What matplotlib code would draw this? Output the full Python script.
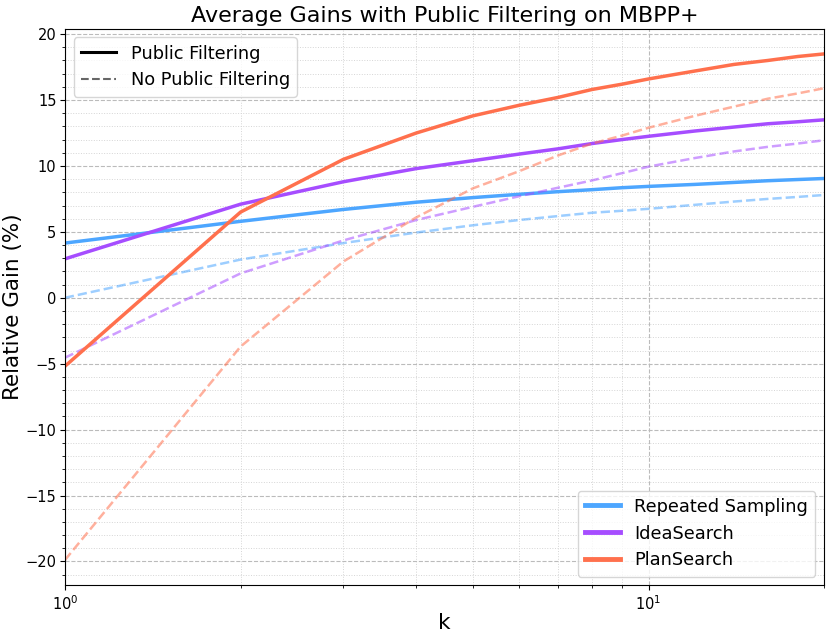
import matplotlib
matplotlib.use('Agg')
import matplotlib.pyplot as plt
from matplotlib.lines import Line2D
from matplotlib.ticker import AutoMinorLocator

# ---- data ----
k = [1, 2, 3, 4, 5, 6, 7, 8, 9, 10, 12, 14, 16, 18, 20]

rs_pub = [4.15, 5.8, 6.7, 7.25, 7.6, 7.85, 8.05, 8.2, 8.35, 8.45, 8.6, 8.75, 8.88, 8.97, 9.05]
idea_pub = [2.95, 7.1, 8.8, 9.8, 10.4, 10.9, 11.3, 11.7, 12.0, 12.25, 12.65, 12.95, 13.2, 13.35, 13.5]
plan_pub = [-5.2, 6.5, 10.5, 12.5, 13.8, 14.6, 15.2, 15.8, 16.2, 16.6, 17.2, 17.7, 18.0, 18.3, 18.5]

rs_nopub = [0.0, 2.9, 4.15, 4.95, 5.5, 5.9, 6.2, 6.45, 6.6, 6.75, 7.05, 7.3, 7.5, 7.65, 7.8]
idea_nopub = [-4.55, 1.85, 4.35, 5.9, 6.9, 7.7, 8.35, 8.9, 9.45, 9.95, 10.6, 11.1, 11.45, 11.7, 11.95]
plan_nopub = [-19.9, -3.7, 2.75, 6.1, 8.3, 9.6, 10.8, 11.7, 12.3, 12.9, 13.8, 14.5, 15.1, 15.5, 15.9]

methods = ['Repeated Sampling', 'IdeaSearch', 'PlanSearch']
colors = ['#4da6ff', '#a64dff', '#ff704d']
pub = [rs_pub, idea_pub, plan_pub]
nopub = [rs_nopub, idea_nopub, plan_nopub]

# ---- plot ----
fig, ax = plt.subplots(figsize=(8.31, 6.35), dpi=100)
fig.subplots_adjust(left=0.078, right=0.992, top=0.955, bottom=0.078)

for name, c, y1, y2 in zip(methods, colors, pub, nopub):
    ax.plot(k, y1, color=c, linewidth=2.5, label=name)
    ax.plot(k, y2, color=c, linewidth=1.8, linestyle='--', alpha=0.55)

ax.set_xscale('log')
ax.set_xlim(1, 20)
ax.yaxis.set_minor_locator(AutoMinorLocator(5))

ax.grid(True, which='major', linestyle='--', color='#bbbbbb', linewidth=0.8)
ax.grid(True, which='minor', linestyle=':', color='#d5d5d5', linewidth=0.7)

ax.set_title('Average Gains with Public Filtering on MBPP+', fontsize=16, pad=5)
ax.set_xlabel('k', fontsize=15.5, labelpad=0)
ax.set_ylabel('Relative Gain (%)', fontsize=15.5, labelpad=2)
ax.tick_params(axis='both', which='major', labelsize=10.5, pad=2.5)

# legend for line style
style_handles = [Line2D([0], [0], color='black', linewidth=2.2),
                 Line2D([0], [0], color='black', linewidth=1.5, linestyle='--', alpha=0.6)]
leg1 = ax.legend(style_handles, ['Public Filtering', 'No Public Filtering'],
                 loc='upper left', fontsize=12.8)
ax.add_artist(leg1)

# legend for methods
leg2 = ax.legend(loc='lower right', fontsize=12.8)
for line in leg2.get_lines():
    line.set_linewidth(3.5)

plt.savefig('out.png', dpi=100)
